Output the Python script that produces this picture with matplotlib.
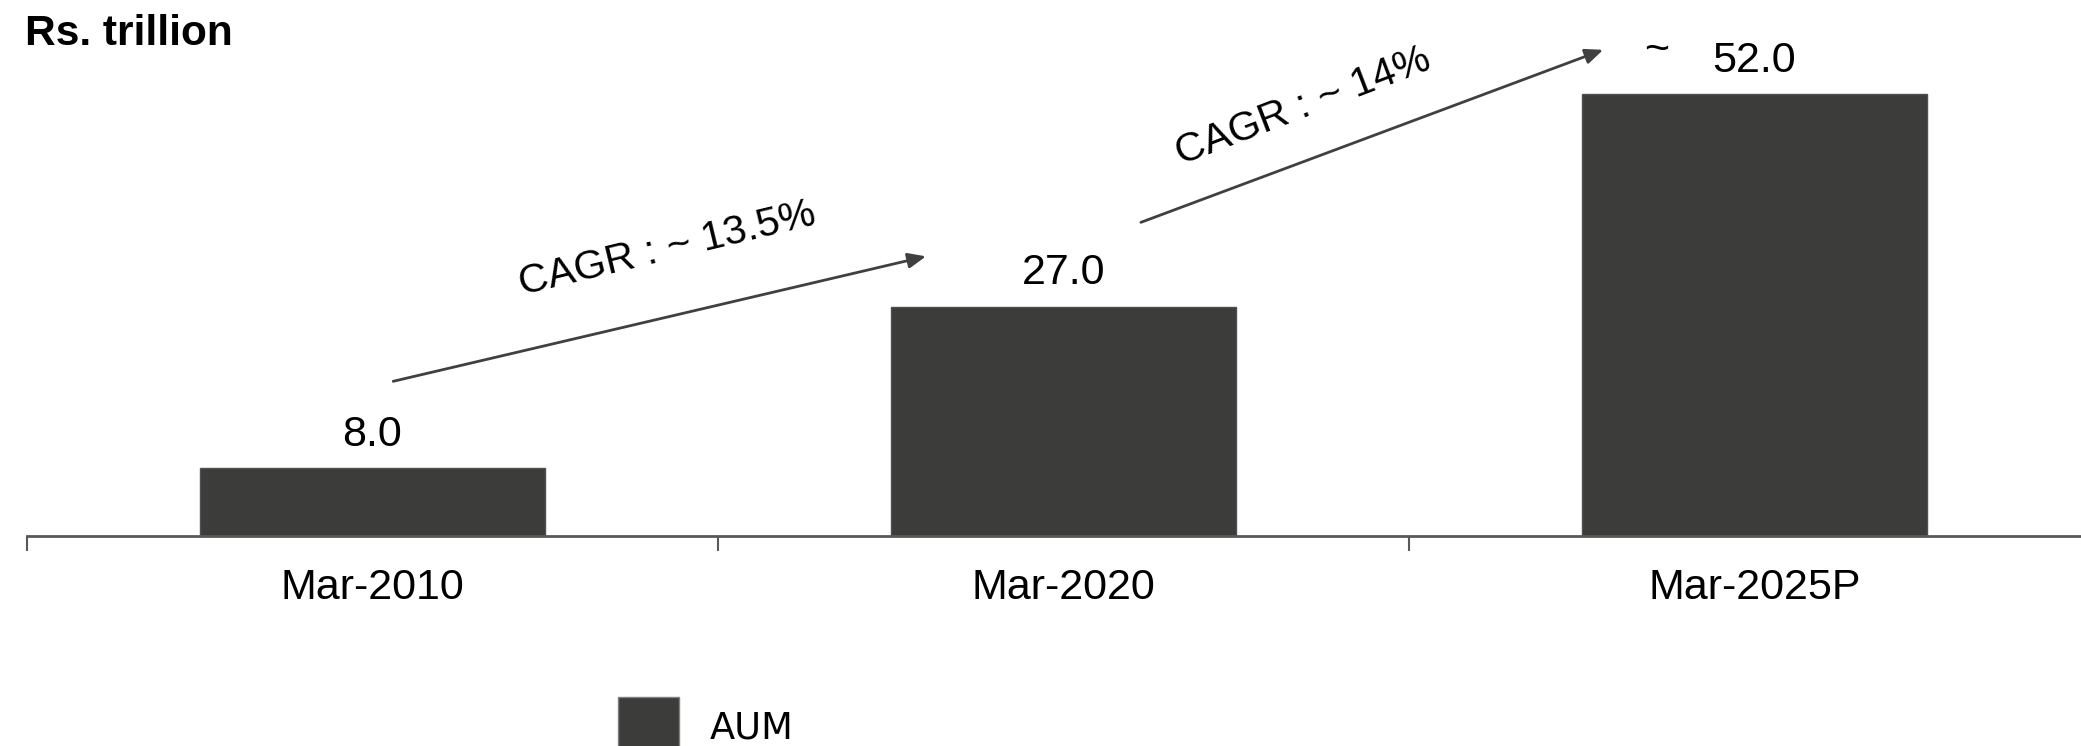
import matplotlib
matplotlib.use('Agg')
import matplotlib.pyplot as plt
import numpy as np

plt.rcParams['font.family'] = ['Liberation Sans', 'DejaVu Sans']

periods = ['Mar-2010', 'Mar-2020', 'Mar-2025P']
aum = [8.0, 27.0, 52.0]
value_labels = ['8.0', '27.0', '52.0']
cagr_labels = ['CAGR : ~ 13.5%', 'CAGR : ~ 14%']

bar_color = '#3c3c3b'
line_color = '#595959'

fig = plt.figure(figsize=(20.81, 7.46), dpi=100)
# axes runs a bit past the right edge of the figure, like the original
ax = fig.add_axes([27 / 2081, 210 / 746, 2073 / 2081, 536 / 746])

x = np.arange(len(periods))
ax.bar(x, aum, width=0.5, color=bar_color, edgecolor='#505050', linewidth=1, label='AUM')
ax.set_xlim(-0.5, 2.5)
ax.set_ylim(0, 63.06)

# value labels above the bars
for i, v in enumerate(aum):
    ax.annotate(value_labels[i], (x[i], v), xytext=(0, 24), textcoords='offset points',
                ha='center', va='center', fontsize=31)
ax.text(1.859, 57.1, '~', ha='center', va='center', fontsize=31)

# CAGR arrows + text
ax.annotate('', xy=(0.801, 32.9), xytext=(0.030, 18.2),
            arrowprops=dict(arrowstyle='-|>,head_length=0.54,head_width=0.23', color='#404040',
                            lw=2, mutation_scale=20, shrinkA=0, shrinkB=0))
ax.annotate('', xy=(1.781, 57.2), xytext=(1.112, 36.9),
            arrowprops=dict(arrowstyle='-|>,head_length=0.54,head_width=0.23', color='#404040',
                            lw=2, mutation_scale=20, shrinkA=0, shrinkB=0))
ax.text(0.426, 33.8, cagr_labels[0], rotation=13.5, rotation_mode='anchor',
        ha='center', va='center', fontsize=29.5)
ax.text(1.347, 50.6, cagr_labels[1], rotation=21, rotation_mode='anchor',
        ha='center', va='center', fontsize=29.5)

# axis styling
for s in ['top', 'right', 'left']:
    ax.spines[s].set_visible(False)
ax.spines['bottom'].set_color(line_color)
ax.spines['bottom'].set_linewidth(2)
ax.set_yticks([])
ax.set_xticks(x)
ax.set_xticklabels(periods, fontsize=31)
ax.set_xticks([-0.5, 0.5, 1.5, 2.5], minor=True)
ax.tick_params(axis='x', which='major', length=0, pad=23)
ax.tick_params(axis='x', which='minor', length=10.5, width=1.5, color=line_color)

fig.text(25 / 2081, 1 - 45 / 746, 'Rs. trillion', fontsize=30.5, fontweight='bold', va='baseline')

leg = fig.legend(loc='center left', bbox_to_anchor=(618 / 2081, 1 - 727 / 746),
                 bbox_transform=fig.transFigure, frameon=False, borderpad=0, borderaxespad=0,
                 handlelength=1.66, handleheight=2.17, handletextpad=0.84,
                 prop={'family': 'DejaVu Sans', 'size': 26.5})
for h in leg.legend_handles:
    h.set_edgecolor('#808080')

plt.savefig('out.png', dpi=100)
